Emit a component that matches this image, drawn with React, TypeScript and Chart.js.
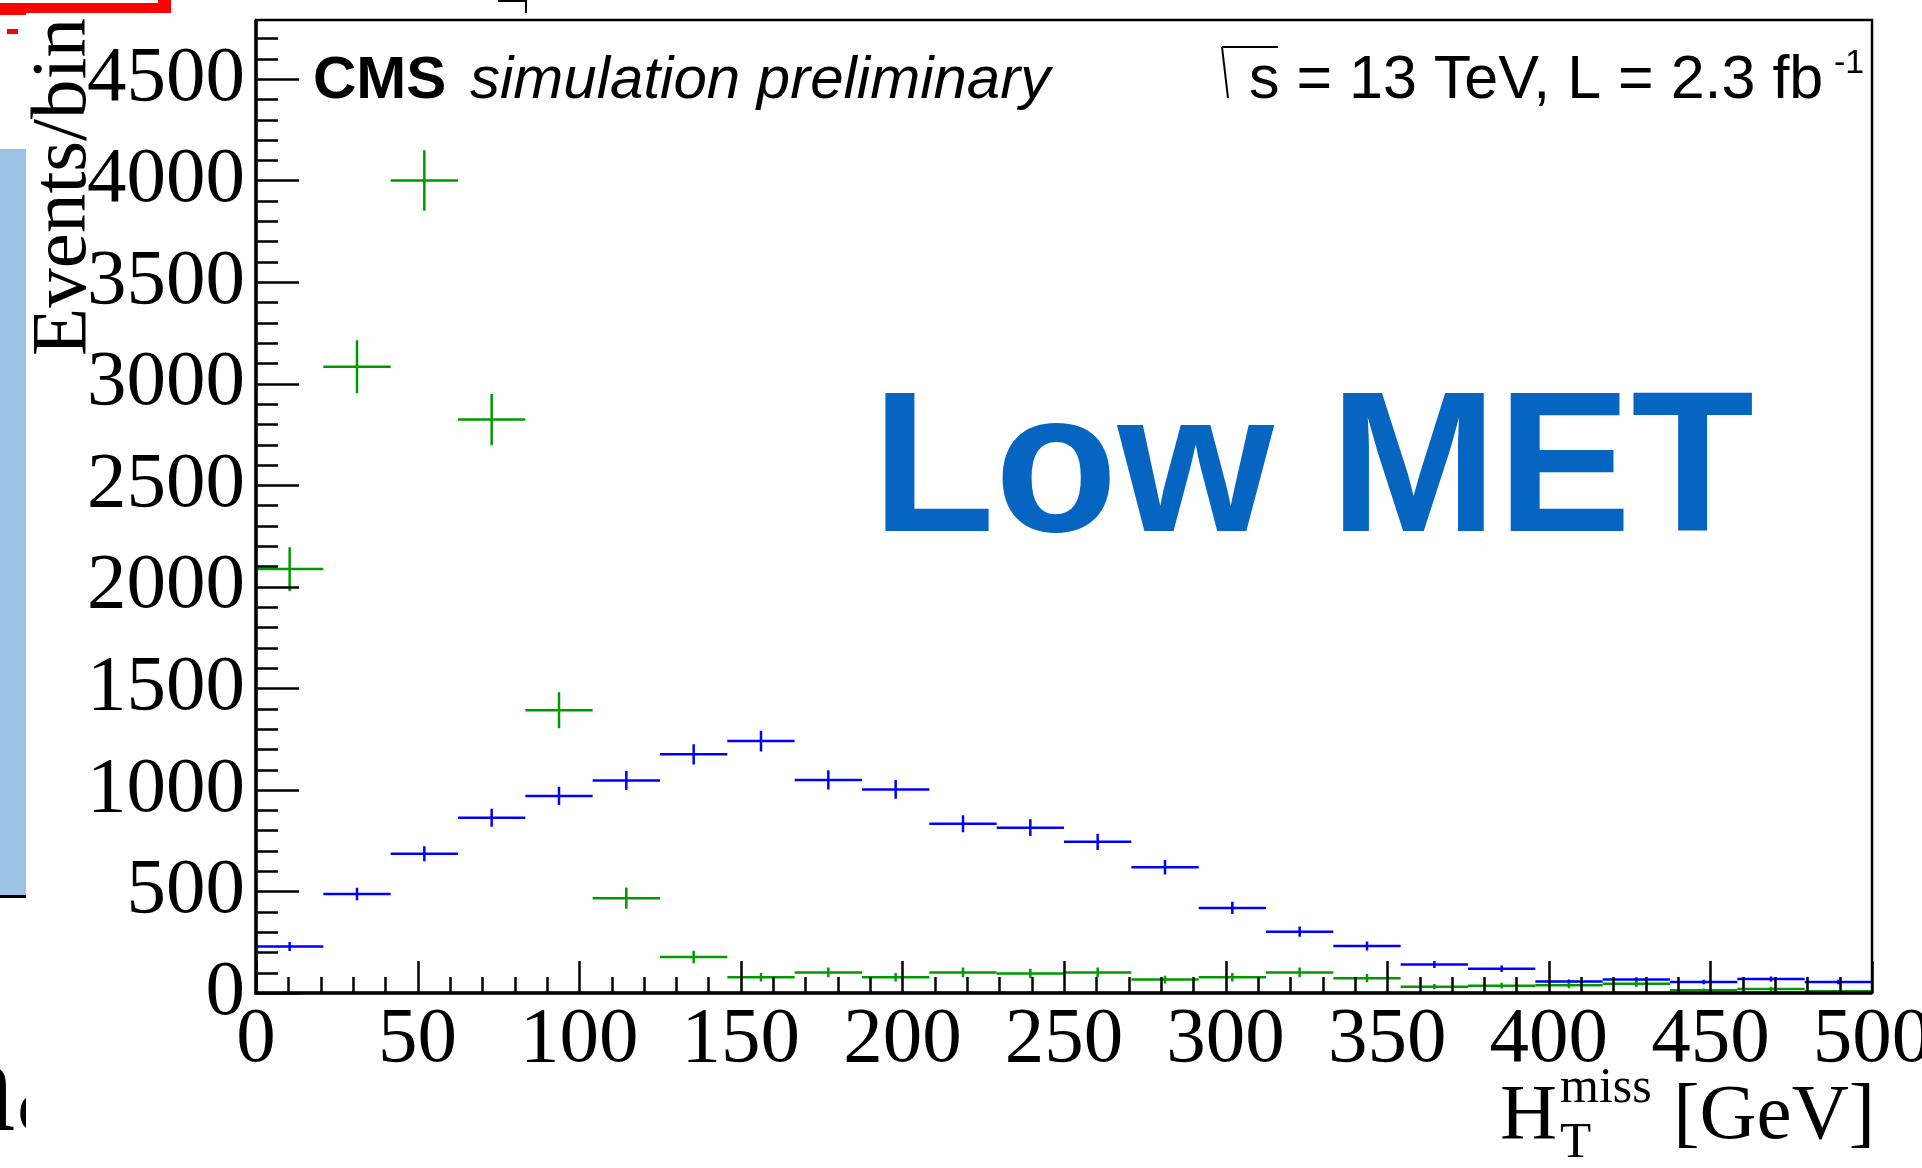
import React, { useEffect, useRef } from 'react';
import { Chart, registerables } from 'chart.js';

Chart.register(...registerables);

const W = 1922;
const H = 1168;

// Histogram definition: 24 bins over 0-500 GeV
const xRange = [0, 500];
const nBins = 24;
const yRange = [0, 4790];

const xTickValues = [0, 50, 100, 150, 200, 250, 300, 350, 400, 450, 500];
const xTickLabels = ['0', '50', '100', '150', '200', '250', '300', '350', '400', '450', '500'];
const xMinorStep = 10;
const yTickValues = [0, 500, 1000, 1500, 2000, 2500, 3000, 3500, 4000, 4500];
const yTickLabels = ['0', '500', '1000', '1500', '2000', '2500', '3000', '3500', '4000', '4500'];
const yMinorStep = 100;

// Blue histogram (events per bin) and its errors
const blueValues = [229, 487, 686, 863, 970, 1046, 1175, 1240, 1049, 1002, 833, 814, 744, 619, 419, 302, 231, 140, 119, 56, 66, 54, 69, 54];
const blueErrors = [22, 31, 37, 44, 45, 47, 50, 51, 47, 46, 42, 41, 40, 36, 30, 25, 22, 17, 16, 11, 12, 11, 12, 11];

// Green histogram (events per bin) and its errors
const greenValues = [2087, 3083, 4000, 2823, 1392, 467, 177, 78, 101, 78, 101, 96, 101, 66, 78, 101, 73, 31, 36, 38, 46, 13, 20, 8];
const greenErrors = [108, 131, 149, 126, 89, 52, 31, 21, 24, 21, 24, 23, 24, 19, 21, 24, 20, 13, 14, 15, 16, 9, 11, 7];

const BLUE = '#0000ff';
const GREEN = '#009a00';
const SERIF = "'Liberation Serif', 'Times New Roman', serif";
const SANS = "'Liberation Sans', Arial, Helvetica, sans-serif";

const binWidth = (xRange[1] - xRange[0]) / nBins;
const binLow = (i: number) => xRange[0] + i * binWidth;
const binCenter = (i: number) => binLow(i) + binWidth / 2;

function drawHist(ctx: CanvasRenderingContext2D, xs: any, ys: any, values: number[], errors: number[], color: string) {
  ctx.save();
  ctx.strokeStyle = color;
  ctx.lineWidth = 2.5;
  ctx.lineCap = 'butt';
  values.forEach((v, i) => {
    const py = ys.getPixelForValue(v);
    const px = xs.getPixelForValue(binCenter(i));
    ctx.beginPath();
    ctx.moveTo(xs.getPixelForValue(binLow(i)), py);
    ctx.lineTo(xs.getPixelForValue(binLow(i) + binWidth), py);
    ctx.moveTo(px, ys.getPixelForValue(v - errors[i]));
    ctx.lineTo(px, ys.getPixelForValue(v + errors[i]));
    ctx.stroke();
  });
  ctx.restore();
}

const decorPlugin = {
  id: 'rootDecor',
  beforeDraw(chart: any) {
    const ctx: CanvasRenderingContext2D = chart.ctx;
    ctx.save();
    ctx.fillStyle = '#ffffff';
    ctx.fillRect(0, 0, chart.width, chart.height);
    // remnants of the surrounding slide
    ctx.fillStyle = '#ff0000';
    ctx.fillRect(0, 3, 171, 10);
    ctx.fillRect(158, 0, 13, 13);
    ctx.fillRect(0, 13, 26, 2);
    ctx.fillRect(7, 29, 11, 5);
    ctx.fillStyle = '#9cc2e6';
    ctx.fillRect(0, 149, 26, 746);
    ctx.fillStyle = '#000000';
    ctx.fillRect(0, 895, 26, 3);
    ctx.fillRect(498, 0, 29, 2);
    ctx.fillRect(525, 0, 2, 13);
    ctx.save();
    ctx.beginPath();
    ctx.rect(0, 1030, 26, 138);
    ctx.clip();
    ctx.font = `135px ${SERIF}`;
    ctx.textBaseline = 'alphabetic';
    ctx.textAlign = 'left';
    ctx.fillText('na', -52, 1130);
    ctx.restore();
    ctx.restore();
  },
  afterDatasetsDraw(chart: any) {
    const ctx: CanvasRenderingContext2D = chart.ctx;
    const xs = chart.scales.x;
    const ys = chart.scales.y;
    drawHist(ctx, xs, ys, blueValues, blueErrors, BLUE);
    drawHist(ctx, xs, ys, greenValues, greenErrors, GREEN);
  },
  afterDraw(chart: any) {
    const ctx: CanvasRenderingContext2D = chart.ctx;
    const xs = chart.scales.x;
    const ys = chart.scales.y;
    const a = chart.chartArea;
    ctx.save();
    ctx.strokeStyle = '#000';
    // ticks
    ctx.lineWidth = 2.5;
    ctx.beginPath();
    for (let v = yRange[0]; v <= yRange[1]; v += yMinorStep) {
      const len = v % 500 === 0 ? 43 : 22;
      const py = Math.round(ys.getPixelForValue(v)) + 0.5;
      ctx.moveTo(a.left, py);
      ctx.lineTo(a.left + len, py);
    }
    for (let v = xRange[0]; v <= xRange[1]; v += xMinorStep) {
      const len = v % 50 === 0 ? 32 : 16;
      const px = Math.round(xs.getPixelForValue(v)) + 0.5;
      ctx.moveTo(px, a.bottom);
      ctx.lineTo(px, a.bottom - len);
    }
    ctx.stroke();
    // frame
    ctx.lineWidth = 2.5;
    ctx.strokeRect(a.left, a.top, a.right - a.left, a.bottom - a.top);
    ctx.lineWidth = 3.5;
    ctx.beginPath();
    ctx.moveTo(a.left, a.top);
    ctx.lineTo(a.left, a.bottom);
    ctx.lineTo(a.right, a.bottom);
    ctx.stroke();

    ctx.fillStyle = '#000';
    ctx.textBaseline = 'alphabetic';
    ctx.textAlign = 'left';
    // CMS label
    ctx.font = `bold 60px ${SANS}`;
    ctx.fillText('CMS', 313, 98);
    ctx.font = `italic 60px ${SANS}`;
    ctx.fillText('simulation preliminary', 470, 98);
    // sqrt(s) label
    ctx.lineWidth = 2;
    ctx.beginPath();
    ctx.moveTo(1222, 47);
    ctx.lineTo(1228, 98);
    ctx.moveTo(1222, 47);
    ctx.lineTo(1278, 47);
    ctx.stroke();
    ctx.font = `61px ${SANS}`;
    ctx.fillText('s = 13 TeV, L = 2.3 fb', 1249, 98);
    ctx.font = `34px ${SANS}`;
    ctx.fillText('-1', 1834, 73);
    // Low MET
    ctx.fillStyle = '#0565c0';
    ctx.font = `bold 201px ${SANS}`;
    ctx.fillText('Low MET', 872, 531);
    // axis titles
    ctx.fillStyle = '#000';
    ctx.font = `79px ${SERIF}`;
    ctx.fillText('H', 1500, 1138);
    ctx.font = `50px ${SERIF}`;
    ctx.fillText('miss', 1560, 1102);
    ctx.font = `51px ${SERIF}`;
    ctx.fillText('T', 1560, 1157);
    ctx.font = `79px ${SERIF}`;
    ctx.textAlign = 'right';
    ctx.fillText('[GeV]', 1875, 1138);
    ctx.save();
    ctx.translate(85, 18);
    ctx.rotate(-Math.PI / 2);
    ctx.textAlign = 'right';
    ctx.fillText('Events/bin', 0, 0);
    ctx.restore();
    ctx.restore();
  },
};

export default function App() {
  const ref = useRef<HTMLCanvasElement>(null);
  useEffect(() => {
    document.body.style.margin = '0';
    document.body.style.overflow = 'hidden';
    const canvas = ref.current!;
    const chart = new Chart(canvas, {
      type: 'scatter',
      data: {
        datasets: [
          {
            label: 'blue',
            data: blueValues.map((v, i) => ({ x: binCenter(i), y: v })),
            pointRadius: 0,
            pointHoverRadius: 0,
            showLine: false,
            borderColor: BLUE,
            backgroundColor: BLUE,
          },
          {
            label: 'green',
            data: greenValues.map((v, i) => ({ x: binCenter(i), y: v })),
            pointRadius: 0,
            pointHoverRadius: 0,
            showLine: false,
            borderColor: GREEN,
            backgroundColor: GREEN,
          },
        ],
      },
      options: {
        responsive: false,
        animation: false,
        devicePixelRatio: 1,
        events: [],
        layout: { padding: { left: 0, top: 20, right: 50, bottom: 0 } },
        plugins: {
          legend: { display: false },
          tooltip: { enabled: false },
          title: { display: false },
        },
        scales: {
          x: {
            type: 'linear',
            position: 'bottom',
            min: xRange[0],
            max: xRange[1],
            afterBuildTicks: (s: any) => {
              s.ticks = xTickValues.map((v) => ({ value: v }));
            },
            afterFit: (s: any) => {
              s.height = 175;
              s.paddingLeft = 0;
              s.paddingRight = 0;
            },
            ticks: {
              autoSkip: false,
              maxRotation: 0,
              minRotation: 0,
              padding: 0,
              color: '#000',
              font: { family: SERIF, size: 79 },
              callback: (_v: any, i: number) => xTickLabels[i],
            },
            grid: { display: false, drawTicks: false },
            border: { display: false },
          },
          y: {
            type: 'linear',
            position: 'left',
            min: yRange[0],
            max: yRange[1],
            afterBuildTicks: (s: any) => {
              s.ticks = yTickValues.map((v) => ({ value: v }));
            },
            afterFit: (s: any) => {
              s.width = 256;
              s.paddingTop = 0;
              s.paddingBottom = 0;
            },
            ticks: {
              padding: 11,
              color: '#000',
              font: { family: SERIF, size: 79 },
              callback: (_v: any, i: number) => yTickLabels[i],
            },
            grid: { display: false, drawTicks: false },
            border: { display: false },
          },
        },
      } as any,
      plugins: [decorPlugin],
    });
    return () => {
      chart.destroy();
    };
  }, []);
  return (
    <div style={{ position: 'fixed', left: 0, top: 0, width: W, height: H, background: '#fff' }}>
      <canvas ref={ref} width={W} height={H} style={{ display: 'block', width: W, height: H }} />
    </div>
  );
}
